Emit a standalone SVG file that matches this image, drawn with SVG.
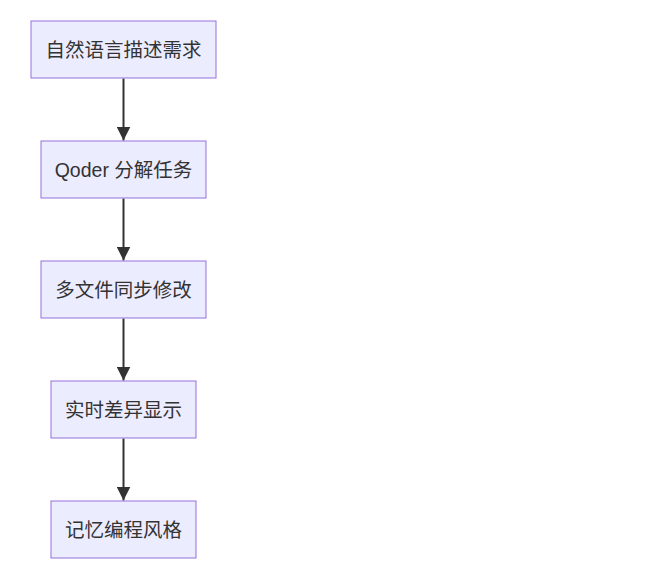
<svg xmlns="http://www.w3.org/2000/svg" width="651" height="568" viewBox="0 0 651 568">
<style>
.node rect{fill:#ECECFF;stroke:#9370DB;stroke-width:1px;}
.node text{font-family:"Liberation Sans","Noto Sans CJK SC",sans-serif;font-size:19.5px;fill:#333;text-anchor:middle;dominant-baseline:central;}
.edge{stroke:#333;stroke-width:2px;fill:none;}
</style>
<defs>
<marker id="arrow" viewBox="0 0 10 10" refX="10" refY="5" markerUnits="userSpaceOnUse" markerWidth="14" markerHeight="14" orient="auto">
<path d="M0,0 L10,5 L0,10 z" fill="#333"/>
</marker>
</defs>
<rect width="651" height="568" fill="#fff"/>
<g id="edges">
<line class="edge" x1="123.5" y1="78.5" x2="123.5" y2="140.5" marker-end="url(#arrow)"/>
<line class="edge" x1="123.5" y1="198.5" x2="123.5" y2="260.5" marker-end="url(#arrow)"/>
<line class="edge" x1="123.5" y1="318.5" x2="123.5" y2="380.5" marker-end="url(#arrow)"/>
<line class="edge" x1="123.5" y1="438.5" x2="123.5" y2="500.5" marker-end="url(#arrow)"/>
</g>
<g id="n1" class="node"><rect x="31" y="21" width="185" height="57"/><text x="123.5" y="49.5">自然语言描述需求</text></g>
<g id="n2" class="node"><rect x="41" y="141" width="165" height="57"/><text x="123.5" y="169.5">Qoder 分解任务</text></g>
<g id="n3" class="node"><rect x="41" y="261" width="165" height="57"/><text x="123.5" y="289.5">多文件同步修改</text></g>
<g id="n4" class="node"><rect x="51" y="381" width="145" height="57"/><text x="123.5" y="409.5">实时差异显示</text></g>
<g id="n5" class="node"><rect x="51" y="501" width="145" height="57"/><text x="123.5" y="529.5">记忆编程风格</text></g>
</svg>
